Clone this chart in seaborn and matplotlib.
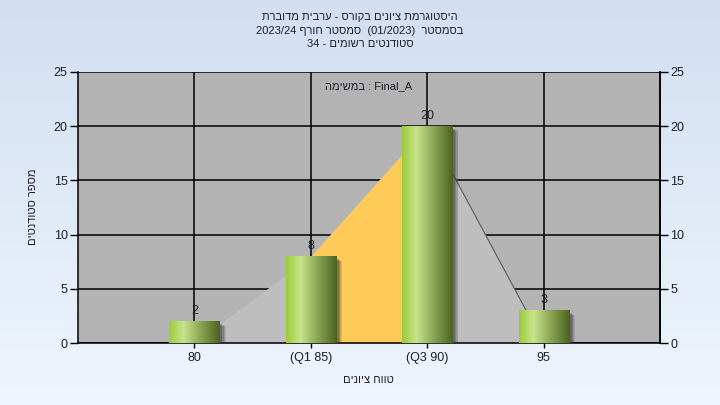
import numpy as np
import pandas as pd
import matplotlib
matplotlib.use("Agg")
import matplotlib.pyplot as plt
import matplotlib.patheffects as pe
from matplotlib.colors import LinearSegmentedColormap
import seaborn as sns

# ---- data ----
categories = ["80", "(Q1 85)", "(Q3 90)", "95"]
counts = [2, 8, 20, 3]
curve_vals = [0, 8, 20, 0]          # grey distribution area under the bars
y_ticks = [0, 5, 10, 15, 20, 25]

# Hebrew text (logical order) -> converted to visual order for LTR rendering
title1 = "היסטוגרמת ציונים בקורס - ערבית מדוברת"[::-1]
title2 = "2023/24 " + "חורף"[::-1] + " " + "סמסטר"[::-1] + "  (01/2023)  " + "בסמסטר"[::-1]
title3 = "34 - " + "סטודנטים רשומים"[::-1]
task_label = "במשימה"[::-1] + " : Final_A"
ylab = "מספר סטודנטים"[::-1]
xlab = "טווח ציונים"[::-1]

sns.set_style("white")
plt.rcParams["font.family"] = ["Liberation Sans", "DejaVu Sans"]
txt_col = "#1e1e2a"

fig = plt.figure(figsize=(7.2, 4.05), dpi=100)

# gradient figure background
bg = fig.add_axes([0, 0, 1, 1], zorder=-10)
grad_bg = np.linspace(0, 1, 256).reshape(-1, 1)
bg_cmap = LinearSegmentedColormap.from_list("bg", ["#d2dff1", "#eef5fd"])
bg.imshow(grad_bg, aspect="auto", cmap=bg_cmap, extent=[0, 1, 0, 1])
bg.axis("off")

ax = fig.add_axes([78 / 720, 1 - 343 / 405, (660 - 78) / 720, (343 - 72) / 405])
ax.set_facecolor("#b3b3b3")

df = pd.DataFrame({"cat": categories, "n": counts})
sns.barplot(data=df, x="cat", y="n", ax=ax, width=0.43, color="#8ab040",
            saturation=1, zorder=3)

xpos = np.arange(len(categories))
ax.fill_between(xpos, curve_vals, 0, color="#bebebe", zorder=1, lw=0)
ax.fill_between(xpos[1:3], np.array(curve_vals)[1:3], 0, color="#fecb58", zorder=1.1, lw=0)
ax.plot(xpos[2:], curve_vals[2:], color="#5a5a5a", lw=0.8, zorder=1.2)

bar_cmap = LinearSegmentedColormap.from_list(
    "bar", [(0, "#9bcb3a"), (0.28, "#c8e38c"), (0.65, "#86a050"), (1, "#4a6420")])
grad = np.linspace(0, 1, 128).reshape(1, -1)
shadow_fx = [pe.SimplePatchShadow(offset=(o, -o * 0.8), shadow_rgbFace="#3a3a3a", alpha=a)
             for o, a in [(4.5, 0.12), (3.8, 0.18), (3.0, 0.25), (2.2, 0.3)]]
for p in ax.patches:
    p.set_zorder(3)
    p.set_edgecolor("none")
    p.set_path_effects(shadow_fx + [pe.Normal()])
    x0, w, h = p.get_x(), p.get_width(), p.get_height()
    im = ax.imshow(grad, cmap=bar_cmap, aspect="auto", extent=[x0, x0 + w, 0, h], zorder=4)
    im.set_clip_path(p)

ax.bar_label(ax.containers[0], padding=3, fontsize=9, color=txt_col)

ax.set_xlim(-1, 4)
ax.set_ylim(0, 25)
ax.set_yticks(y_ticks)
ax.set_xticks(xpos)
ax.set_xticklabels(categories)
ax.grid(True, color="black", lw=1.1, zorder=0.5)
ax.set_axisbelow(True)
ax.tick_params(axis="y", direction="out", length=6, width=1, pad=1.5, labelsize=9,
               colors="black", labelcolor=txt_col, left=True)
ax.tick_params(axis="x", direction="out", length=3.5, width=1, pad=3, labelsize=9,
               colors="black", labelcolor=txt_col, bottom=True)
for s in ["left", "bottom", "right"]:
    ax.spines[s].set_color("black")
    ax.spines[s].set_linewidth(1.1)
ax.spines["top"].set_visible(False)
ax.set_xlabel("")
ax.set_ylabel("")

ax2 = ax.twinx()
ax2.set_ylim(0, 25)
ax2.set_yticks(y_ticks)
ax2.tick_params(axis="y", direction="out", length=6, width=1, pad=1.5, labelsize=9,
                colors="black", labelcolor=txt_col, right=True)
for s in ["left", "bottom", "top"]:
    ax2.spines[s].set_visible(False)
ax2.spines["right"].set_color("black")
ax2.spines["right"].set_linewidth(1.1)
ax2.grid(False)

ax.text(0.5, 0.948, task_label, transform=ax.transAxes, ha="center", va="center",
        fontsize=8, color=txt_col)

fig.text(0.5, 0.958, title1, ha="center", va="center", fontsize=8, color=txt_col)
fig.text(0.5, 0.924, title2, ha="center", va="center", fontsize=8, color=txt_col)
fig.text(0.5, 0.891, title3, ha="center", va="center", fontsize=8, color=txt_col)
fig.text(368 / 720, 1 - 380 / 405, xlab, ha="center", va="center", fontsize=8, color=txt_col)
fig.text(33 / 720, 1 - 207 / 405, ylab, ha="center", va="center", rotation=90,
         fontsize=8, color=txt_col)

fig.savefig("out.png", dpi=100)
